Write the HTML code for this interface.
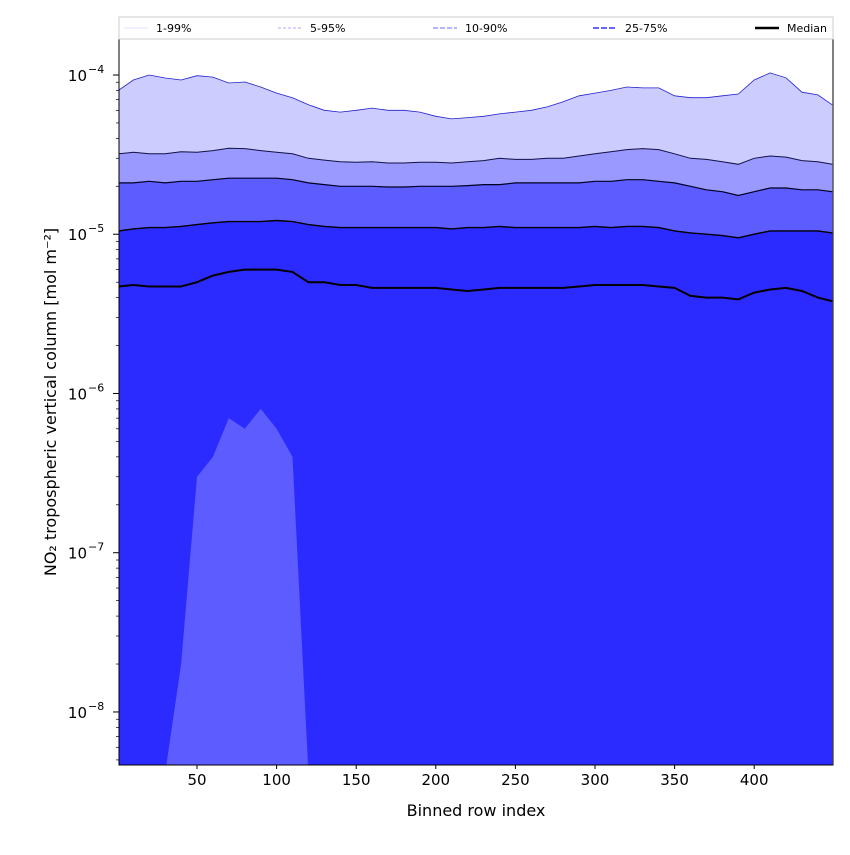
<!DOCTYPE html>
<html><head><meta charset="utf-8"><style>
body{margin:0;background:#fff;font-family:"Liberation Sans","DejaVu Sans",sans-serif;}
svg text{font-family:"DejaVu Sans","Liberation Sans",sans-serif;}
</style></head><body>
<svg id="chart" width="850" height="850" xmlns="http://www.w3.org/2000/svg"></svg>
<script>
const rows = [1,10,20,30,40,50,60,70,80,90,100,110,120,130,140,150,160,170,180,190,200,210,220,230,240,250,260,270,280,290,300,310,320,330,340,350,360,370,380,390,400,410,420,430,440,449];
const p99 = [8.05,9.3,10,9.57,9.3,9.9,9.7,8.9,9.04,8.4,7.7,7.2,6.5,6.0,5.85,6.0,6.2,6.0,6.0,5.85,5.5,5.3,5.4,5.5,5.7,5.85,6.0,6.3,6.8,7.4,7.7,8.0,8.4,8.3,8.3,7.4,7.2,7.2,7.4,7.6,9.3,10.3,9.6,7.8,7.5,6.5];
const p95 = [3.2,3.27,3.2,3.2,3.3,3.27,3.35,3.47,3.45,3.35,3.27,3.2,3.0,2.92,2.85,2.83,2.85,2.8,2.8,2.83,2.83,2.8,2.85,2.9,3.0,2.95,2.95,3.0,3.0,3.1,3.2,3.3,3.4,3.45,3.4,3.2,3.0,2.95,2.85,2.75,3.0,3.1,3.05,2.9,2.85,2.75];
const p90 = [2.1,2.1,2.15,2.1,2.15,2.15,2.2,2.25,2.25,2.25,2.25,2.2,2.1,2.05,2.0,2.0,2.0,1.98,1.98,2.0,2.0,2.0,2.02,2.05,2.05,2.1,2.1,2.1,2.1,2.1,2.15,2.15,2.2,2.2,2.15,2.1,2.0,1.9,1.85,1.75,1.85,1.95,1.95,1.9,1.9,1.85];
const p75 = [1.05,1.08,1.1,1.1,1.12,1.15,1.18,1.2,1.2,1.2,1.22,1.2,1.15,1.12,1.1,1.1,1.1,1.1,1.1,1.1,1.1,1.08,1.1,1.1,1.12,1.1,1.1,1.1,1.1,1.1,1.12,1.1,1.12,1.12,1.1,1.05,1.02,1.0,0.98,0.95,1.0,1.05,1.05,1.05,1.05,1.02];
const p50 = [0.47,0.48,0.47,0.47,0.47,0.5,0.55,0.58,0.6,0.6,0.6,0.58,0.5,0.5,0.48,0.48,0.46,0.46,0.46,0.46,0.46,0.45,0.44,0.45,0.46,0.46,0.46,0.46,0.46,0.47,0.48,0.48,0.48,0.48,0.47,0.46,0.41,0.4,0.4,0.39,0.43,0.45,0.46,0.44,0.4,0.38];
const p25 = [0,0,0,0,0.002,0.03,0.04,0.07,0.06,0.08,0.06,0.04,0,0,0,0,0,0,0,0,0,0,0,0,0,0,0,0,0,0,0,0,0,0,0,0,0,0,0,0,0,0,0,0,0,0];
const scale = 1e-5;
const xTicks = [50,100,150,200,250,300,350,400];
const yExps = [-4,-5,-6,-7,-8];

const L=119,R=833,T=39,B=765;
const X0=1,X1=449.5, LOGTOP=-3.774, LOGBOT=-8.333;
const xs = v => L + (v-X0)/(X1-X0)*(R-L);
const ys = v => { let lv = v>0 ? Math.log10(v) : LOGBOT-1; lv=Math.max(lv,LOGBOT-0.05); return T + (LOGTOP-lv)/(LOGTOP-LOGBOT)*(B-T); };
const svg=document.getElementById('chart');
const NS='http://www.w3.org/2000/svg';
function mk(tag,attrs,parent){const e=document.createElementNS(NS,tag);for(const k in attrs)e.setAttribute(k,attrs[k]);(parent||svg).appendChild(e);return e;}
function linePts(arr){return rows.map((r,i)=>xs(r).toFixed(1)+','+ys(arr[i]*scale).toFixed(1)).join(' ');}
function band(up,low){
  let p=rows.map((r,i)=>xs(r).toFixed(1)+','+ys(up[i]*scale).toFixed(1));
  for(let i=rows.length-1;i>=0;i--){p.push(xs(rows[i]).toFixed(1)+','+(low?ys(low[i]*scale):B+5).toFixed(1));}
  return p.join(' ');
}
const defs=mk('defs',{});
const cp=mk('clipPath',{id:'clip'},defs);mk('rect',{x:L,y:T,width:R-L,height:B-T},cp);
const g=mk('g',{'clip-path':'url(#clip)'});
let e;
e=mk('polygon',{points:band(p99,null),fill:'#ccccff'},g);

e=mk('polygon',{points:band(p95,null),fill:'#9999ff'},g);

e=mk('polygon',{points:band(p90,null),fill:'#5c5cff'},g);

e=mk('polygon',{points:band(p75,p25),fill:'#2b2bff'},g);

e=mk('polyline',{points:linePts(p99),fill:'none',stroke:'#2222cc','stroke-width':0.8},g);

e=mk('polyline',{points:linePts(p95),fill:'none',stroke:'#111144','stroke-width':1},g);

e=mk('polyline',{points:linePts(p90),fill:'none',stroke:'#000022','stroke-width':1.2},g);

e=mk('polyline',{points:linePts(p75),fill:'none',stroke:'#000','stroke-width':1.4},g);

e=mk('polyline',{points:linePts(p50),fill:'none',stroke:'#000','stroke-width':2},g);

mk('rect',{x:L,y:T,width:R-L,height:B-T,fill:'none',stroke:'#000','stroke-width':1});
xTicks.forEach(t=>{const x=xs(t);mk('line',{x1:x,x2:x,y1:B,y2:B+4,stroke:'#000'});
 e=mk('text',{x:x,y:B+20,'font-size':15,'text-anchor':'middle'});e.textContent=t;
 });
yExps.forEach(p=>{const y=ys(Math.pow(10,p));mk('line',{x1:L-6,x2:L,y1:y,y2:y,stroke:'#000'});
 e=mk('text',{x:L-32,y:y+6,'font-size':15,'text-anchor':'end'});e.textContent='10';
 
 const s=mk('text',{x:L-31,y:y-2,'font-size':11,'text-anchor':'start'});s.textContent='\u2212'+(-p);
 });
for(let p=-9;p<=-4;p++)for(let m=2;m<10;m++){const v=m*Math.pow(10,p);const y=ys(v);if(y>T&&y<B)mk('line',{x1:L-3,x2:L,y1:y,y2:y,stroke:'#000','stroke-width':0.7});}
e=mk('text',{x:(L+R)/2,y:816,'font-size':16,'text-anchor':'middle'});e.textContent='Binned row index';

e=mk('text',{x:0,y:0,'font-size':16,'text-anchor':'middle',transform:'translate(56,402) rotate(-90)'});e.textContent='NO\u2082 tropospheric vertical column [mol m\u207B\u00B2]';

const lg=mk('g',{});
mk('rect',{x:119,y:17,width:714,height:22,fill:'#fff',stroke:'#ccc'},lg);
const leg=[['1-99%',124,'#e0e0ff',1,''],['5-95%',278,'#aaaaff',1,'3,2'],['10-90%',433,'#8888ff',1.3,'5,2'],['25-75%',593,'#6666ff',2,'6,2'],['Median',755,'#000',2.5,'']];
leg.forEach(l=>{mk('line',{x1:l[1],x2:l[1]+24,y1:28,y2:28,stroke:l[2],'stroke-width':l[3],'stroke-dasharray':l[4]},lg);
 const t=mk('text',{x:l[1]+32,y:32,'font-size':11},lg);t.textContent=l[0];
 });
</script>
</body></html>
